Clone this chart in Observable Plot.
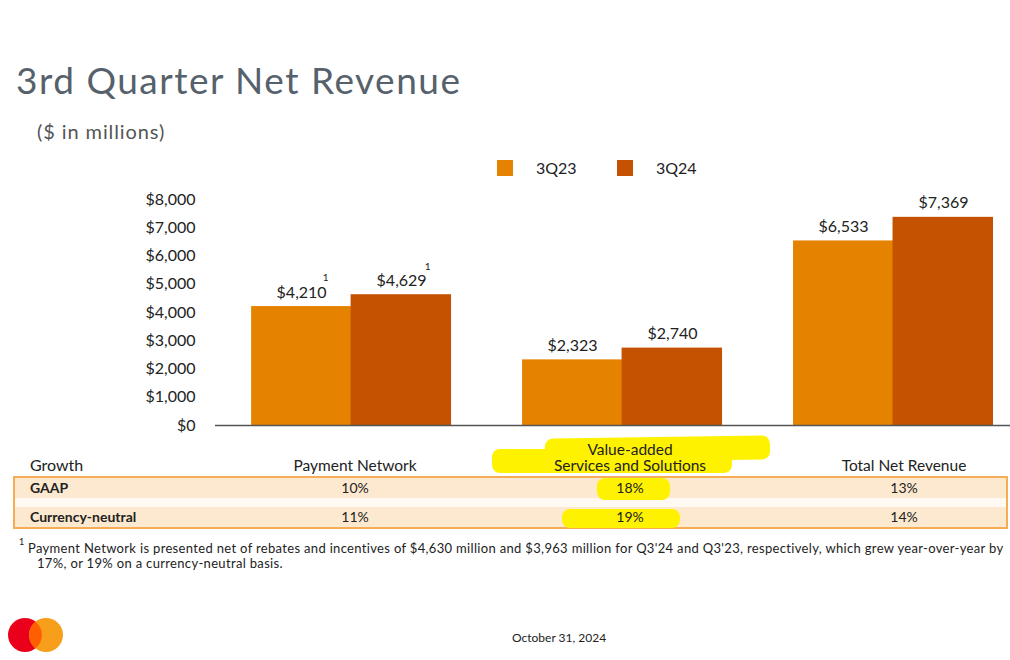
<!DOCTYPE html>
<html>
<head>
<meta charset="utf-8">
<script src="https://cdn.jsdelivr.net/npm/d3@7"></script>
<script src="https://cdn.jsdelivr.net/npm/@observablehq/plot@0.6"></script>
<style>
  html, body { margin: 0; padding: 0; background: #fff; }
  #page { position: relative; width: 1010px; height: 660px; overflow: hidden; font-family: Lato, "Noto Sans", sans-serif; color: #222; }
  .abs { position: absolute; white-space: nowrap; }
  #title { left: 16px; top: 57px; font-size: 37px; color: #56616b; letter-spacing: 1.5px; }
  #subtitle { left: 37px; top: 119px; font-size: 20px; color: #555; letter-spacing: 0.9px; }
  .sw { width: 16px; height: 16px; }
  .leg { font-size: 16px; line-height: 16px; }
  #chart { left: 0; top: 185px; }
  .hl { background: #fff200; border-radius: 8px; }
  .row { left: 15px; width: 991px; height: 20px; background: #fde9cf; }
  .cell { font-size: 14px; line-height: 20px; transform: translateX(-50%); }
  .rlab { font-size: 14px; line-height: 20px; font-weight: bold; left: 30px; }
  .hdr { font-size: 15.5px; line-height: 16px; text-align: center; transform: translateX(-50%); }
  .foot { font-size: 13px; line-height: 15px; letter-spacing: 0.33px; }
  #date { left: 512px; top: 630px; font-size: 12px; }
</style>
</head>
<body>
<div id="page">
  <div id="title" class="abs"></div>
  <div id="subtitle" class="abs"></div>
  <div id="legend"></div>
  <div id="chart" class="abs"></div>
  <div id="table"></div>
  <div id="footmark" class="abs" style="left:19px;top:537px;font-size:9px;line-height:9px">1</div>
  <div id="foot1" class="abs foot" style="left:28px;top:541px"></div>
  <div id="foot2" class="abs foot" style="left:37px;top:556px"></div>
  <div id="date" class="abs"></div>
  <svg class="abs" style="left:0;top:610px" width="80" height="50">
    <circle cx="25" cy="25" r="17" fill="#eb001b"></circle>
    <circle cx="46" cy="25" r="17" fill="#f79e1b"></circle>
    <path d="M35.5,11.7 A17,17 0 0 1 35.5,38.3 A17,17 0 0 1 35.5,11.7 Z" fill="#ff5f00"></path>
  </svg>
</div>
<script>
// ---------- data ----------
const titleText = "3rd Quarter Net Revenue";
const subtitleText = "($ in millions)";
const categories = ["Payment Network", "Value-added Services and Solutions", "Total Net Revenue"];
const headerLines = [["Payment Network"], ["Value-added", "Services and Solutions"], ["Total Net Revenue"]];
const periods = ["3Q23", "3Q24"];
const revenue3Q23 = [4210, 2323, 6533];
const revenue3Q24 = [4629, 2740, 7369];
const footnoteMark = ["1", "", ""];
const yTicks = [0, 1000, 2000, 3000, 4000, 5000, 6000, 7000, 8000];
const growthLabel = "Growth";
const rowLabels = ["GAAP", "Currency-neutral"];
const gaapGrowth = ["10%", "18%", "13%"];
const cnGrowth = ["11%", "19%", "14%"];
const footnoteText = ["Payment Network is presented net of rebates and incentives of $4,630 million and $3,963 million for Q3'24 and Q3'23, respectively, which grew year-over-year by",
                      "17%, or 19% on a currency-neutral basis."];
const dateText = "October 31, 2024";
const colors = ["#e58300", "#c45200"];

// ---------- build ----------
document.getElementById("title").textContent = titleText;
document.getElementById("subtitle").textContent = subtitleText;

// legend
const legend = document.getElementById("legend");
const legPos = [497, 617];
periods.forEach((p, i) => {
  const sw = document.createElement("div");
  sw.className = "abs sw"; sw.style.left = legPos[i] + "px"; sw.style.top = "160px"; sw.style.background = colors[i];
  legend.appendChild(sw);
  const t = document.createElement("div");
  t.className = "abs leg"; t.style.left = (legPos[i] + 39) + "px"; t.style.top = "160px"; t.textContent = p;
  legend.appendChild(t);
});

const data = [];
categories.forEach((c, i) => {
  data.push({category: c, period: periods[0], value: revenue3Q23[i], note: footnoteMark[i]});
  data.push({category: c, period: periods[1], value: revenue3Q24[i], note: footnoteMark[i]});
});
const d0 = data.filter(d => d.period === periods[0]);
const d1 = data.filter(d => d.period === periods[1]);
const fmt = v => "$" + d3.format(",")(v);

const chart = Plot.plot({
  width: 1010,
  height: 255,
  marginLeft: 215,
  marginRight: 0,
  marginTop: 14,
  marginBottom: 15,
  style: {fontFamily: "Lato, 'Noto Sans', sans-serif", fontSize: "16px", color: "#222", background: "transparent", overflow: "visible"},
  x: {domain: categories, paddingInner: 0.262, paddingOuter: 0.098, align: 0.68, round: false, axis: null},
  y: {domain: [0, 8000], ticks: yTicks, tickFormat: fmt, tickSize: 0, tickPadding: 20, label: null},
  color: {domain: periods, range: colors},
  marks: [
    Plot.barY(d0, {x: "category", y: "value", fill: "period", insetRight: 100}),
    Plot.barY(d1, {x: "category", y: "value", fill: "period", insetLeft: 99.5}),
    Plot.ruleY([0], {stroke: "#555", strokeWidth: 1.5}),
    Plot.text(d0, {x: "category", y: "value", text: d => fmt(d.value), dx: -50, dy: -14, fontSize: 16, fill: "#222"}),
    Plot.text(d1, {x: "category", y: "value", text: d => fmt(d.value), dx: 50, dy: -14, fontSize: 16, fill: "#222"}),
    Plot.text(d0.filter(d => d.note), {x: "category", y: "value", text: "note", dx: -26, dy: -29, fontSize: 10, fill: "#222"}),
    Plot.text(d1.filter(d => d.note), {x: "category", y: "value", text: "note", dx: 76, dy: -28, fontSize: 10, fill: "#222"})
  ]
});
document.getElementById("chart").appendChild(chart);

// table
const table = document.getElementById("table");
function add(cls, style, text) {
  const el = document.createElement("div");
  el.className = "abs " + cls;
  Object.assign(el.style, style);
  if (text != null) el.textContent = text;
  table.appendChild(el);
  return el;
}
// marker highlight behind the header
add("hl", {left: "545px", top: "437px", width: "225px", height: "24px", transform: "rotate(-0.8deg)"});
add("hl", {left: "492px", top: "449px", width: "240px", height: "24px"});

// frame and row fills
add("", {left: "13px", top: "476px", width: "995px", height: "53px", background: "#fef9f2", border: "2px solid #f6ad55", boxSizing: "border-box"});
add("row", {top: "478px"});
add("row", {top: "507px"});
// marker highlights on the value cells
add("hl", {left: "597px", top: "478px", width: "73px", height: "22px"});
add("hl", {left: "562px", top: "509px", width: "118px", height: "19px"});

const colCenters = [355, 630, 904];
add("", {left: "30px", top: "457px", fontSize: "16px", lineHeight: "16px"}, growthLabel);
headerLines.forEach((lines, i) => {
  const el = add("hdr", {left: colCenters[i] + "px", top: (473 - 16 * lines.length) + "px"});
  el.innerHTML = lines.join("<br>");
});
const rowTops = [478, 507];
rowLabels.forEach((r, j) => add("rlab", {top: rowTops[j] + "px"}, r));
[gaapGrowth, cnGrowth].forEach((vals, j) => vals.forEach((v, i) =>
  add("cell", {left: colCenters[i] + "px", top: rowTops[j] + "px"}, v)));

// footnote
document.getElementById("foot1").textContent = footnoteText[0];
document.getElementById("foot2").textContent = footnoteText[1];
document.getElementById("date").textContent = dateText;
</script>
</body>
</html>
